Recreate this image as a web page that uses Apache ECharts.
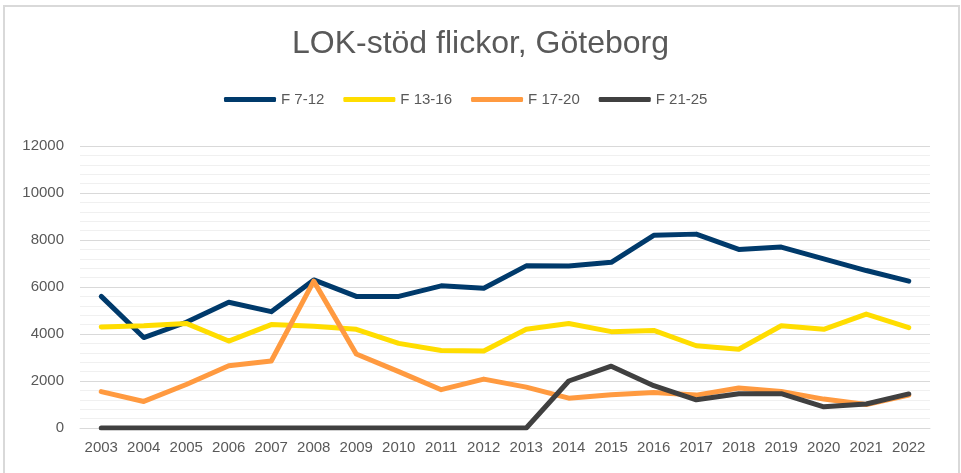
<!DOCTYPE html>
<html>
<head>
<meta charset="utf-8">
<script src="https://cdn.jsdelivr.net/npm/echarts@6/dist/echarts.min.js"></script>
<style>
  html, body { margin: 0; padding: 0; background: #fff; }
  #frame { position: absolute; left: 3px; top: 5px; width: 953px; height: 480px;
           border: 2px solid #d9d9d9; border-bottom: none; }
  #main { position: absolute; left: 0; top: 0; width: 961px; height: 473px; }
</style>
</head>
<body>
<div id="frame"></div>
<div id="main"></div>
<script>
var years = ['2003','2004','2005','2006','2007','2008','2009','2010','2011','2012',
             '2013','2014','2015','2016','2017','2018','2019','2020','2021','2022'];
var f7_12  = [5600,3850,4500,5350,4950,6300,5600,5600,6050,5950,6900,6890,7050,8200,8250,7600,7700,7200,6700,6250];
var f13_16 = [4300,4350,4450,3700,4400,4330,4200,3600,3300,3280,4200,4450,4100,4150,3500,3350,4350,4200,4850,4270];
var f17_20 = [1550,1130,1850,2650,2850,6250,3150,2400,1630,2080,1740,1270,1410,1510,1400,1700,1550,1230,1000,1400];
var f21_25 = [0,0,0,0,0,0,0,0,0,0,0,2000,2630,1800,1200,1460,1460,900,1020,1450];

var chart = echarts.init(document.getElementById('main'));

function line(name, data, color) {
    return {
        name: name,
        type: 'line',
        data: data,
        showSymbol: false,
        symbol: 'none',
        lineStyle: { width: 5, color: color, join: 'round', cap: 'round' },
        itemStyle: { color: color }
    };
}

var option = {
    animation: false,
    title: {
        text: 'LOK-stöd flickor, Göteborg',
        left: 'center',
        top: 23,
        textStyle: { fontFamily: 'Liberation Sans', fontSize: 32, fontWeight: 'normal', color: '#595959' }
    },
    legend: {
        left: 219,
        top: 87,
        itemWidth: 52,
        itemHeight: 5,
        itemGap: 19,
        icon: 'roundRect',
        textStyle: { fontFamily: 'Liberation Sans', fontSize: 15, color: '#595959' },
        data: ['F 7-12', 'F 13-16', 'F 17-20', 'F 21-25']
    },
    grid: { left: 80, right: 31, top: 146, bottom: 45 },
    xAxis: {
        type: 'category',
        data: years,
        boundaryGap: true,
        axisLine: { lineStyle: { color: '#d9d9d9', width: 1 } },
        axisTick: { show: false },
        axisLabel: { fontFamily: 'Liberation Sans', fontSize: 15, color: '#595959', margin: 12, interval: 0 }
    },
    yAxis: {
        type: 'value',
        min: 0,
        max: 12000,
        interval: 2000,
        axisLine: { show: false },
        axisTick: { show: false },
        axisLabel: {
            fontFamily: 'Liberation Sans', fontSize: 15, color: '#595959', margin: 16,
            formatter: function (v) { return String(v); }
        },
        splitLine: { lineStyle: { color: '#d9d9d9', width: 1 } },
        minorTick: { show: false, splitNumber: 5 },
        minorSplitLine: { show: true, lineStyle: { color: '#f0f0f0', width: 1 } }
    },
    series: [
        line('F 7-12', f7_12, '#003a6b'),
        line('F 13-16', f13_16, '#ffdd00'),
        line('F 17-20', f17_20, '#ff9a40'),
        line('F 21-25', f21_25, '#404040')
    ]
};

chart.setOption(option);
</script>
</body>
</html>
